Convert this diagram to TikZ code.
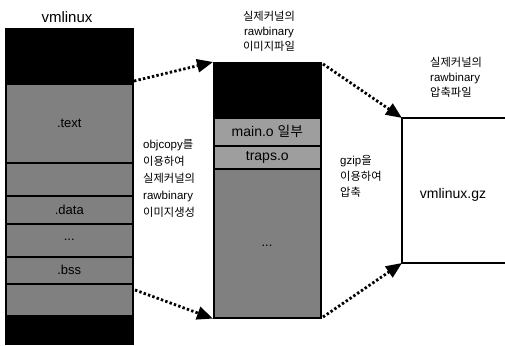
\documentclass[tikz,border=0pt]{standalone}
\usepackage{fontspec}
\setmainfont{Liberation Sans}
\newfontfamily\krfont[Scale=0.98]{Noto Sans CJK KR}
\newcommand\kor[1]{{\krfont #1}}
\usetikzlibrary{arrows.meta}
\begin{document}
\begin{tikzpicture}[x=1pt,y=-1pt,
  sec/.style={draw=black, line width=1.6pt, anchor=north west, inner sep=0pt, font=\fontsize{13}{15}\selectfont},
  blk/.style={sec, fill=black},
  gry/.style={sec, fill=black!50},
  lgry/.style={sec, fill=black!38},
  lab/.style={inner sep=0pt, font=\fontsize{11.5}{13}\selectfont},
  dotarrow/.style={line width=2.8pt, dash pattern=on 2.4pt off 2.2pt,
    -{Triangle[length=16pt,width=13pt]}}
]
\useasboundingbox (0,0) rectangle (505,345);
% left column: vmlinux
\node[lab, font=\fontsize{15}{17}\selectfont] (tvm) at (67,17) {vmlinux};
\node[blk, minimum width=127pt, minimum height=55pt] (lblk) at (5,28) {};
\node[gry, minimum width=127pt, minimum height=79pt] (ltext) at (5,83) {.text};
\node[gry, minimum width=127pt, minimum height=33pt] (lrod) at (5,162) {};
\node[gry, minimum width=127pt, minimum height=28pt] (ldata) at (5,195) {.data};
\node[gry, minimum width=127pt, minimum height=33pt] (ldots) at (5,223) {...};
\node[gry, minimum width=127pt, minimum height=27pt] (lbss) at (5,256) {.bss};
\node[gry, minimum width=127pt, minimum height=32pt] (lrest) at (5,283) {};
\node[blk, minimum width=127pt, minimum height=28pt] (lbot) at (5,315) {};
% middle column
\node[lab, align=center] (tmid) at (269,31) {\kor{실제커널의}\\[2pt]rawbinary\\[2pt]\kor{이미지파일}};
\node[blk, minimum width=107pt, minimum height=55pt] (mblk) at (213,62) {};
\node[lgry, minimum width=107pt, minimum height=28pt, font=\fontsize{14}{16}\selectfont] (mmain) at (213,117) {main.o \kor{일부}};
\node[lgry, minimum width=107pt, minimum height=23pt, font=\fontsize{14}{16}\selectfont] (mtraps) at (213,145) {traps.o};
\node[gry, minimum width=107pt, minimum height=149pt] (mrest) at (213,168) {};
\node[lab, font=\fontsize{13}{15}\selectfont] (mdots) at (267,246) {...};
% objcopy label
\node[lab, align=left, anchor=north west] (lobj) at (143,139) {objcopy\kor{를}\\[4pt]\kor{이용하여}\\[4pt]\kor{실제커널의}\\[4pt]rawbinary\\[4pt]\kor{이미지생성}};
% right box
\coordinate (gtl) at (402,118);
\coordinate (gbl) at (402,263);
\draw[line width=1.4pt] (505,118) -- (gtl) -- (gbl) -- (505,263);
\node[lab, font=\fontsize{14}{16}\selectfont] (gz) at (453,195) {vmlinux.gz};
\node[lab, align=left, anchor=north west] (tgz) at (430,57) {\kor{실제커널의}\\[2pt]rawbinary\\[2pt]\kor{압축파일}};
\node[lab, align=left, anchor=north west] (lgzip) at (340,155) {gzip\kor{을}\\[3pt]\kor{이용하여}\\[3pt]\kor{압축}};
% arrows
\coordinate (s1) at (134,81);
\coordinate (s2) at (135,290);
\coordinate (s3) at (323,64);
\coordinate (s4) at (323,317);
\draw[dotarrow] (s1) -- (mblk.north west);
\draw[dotarrow] (s2) -- (mrest.south west);
\draw[dotarrow] (s3) -- (gtl);
\draw[dotarrow] (s4) -- (gbl);
\end{tikzpicture}
\end{document}
